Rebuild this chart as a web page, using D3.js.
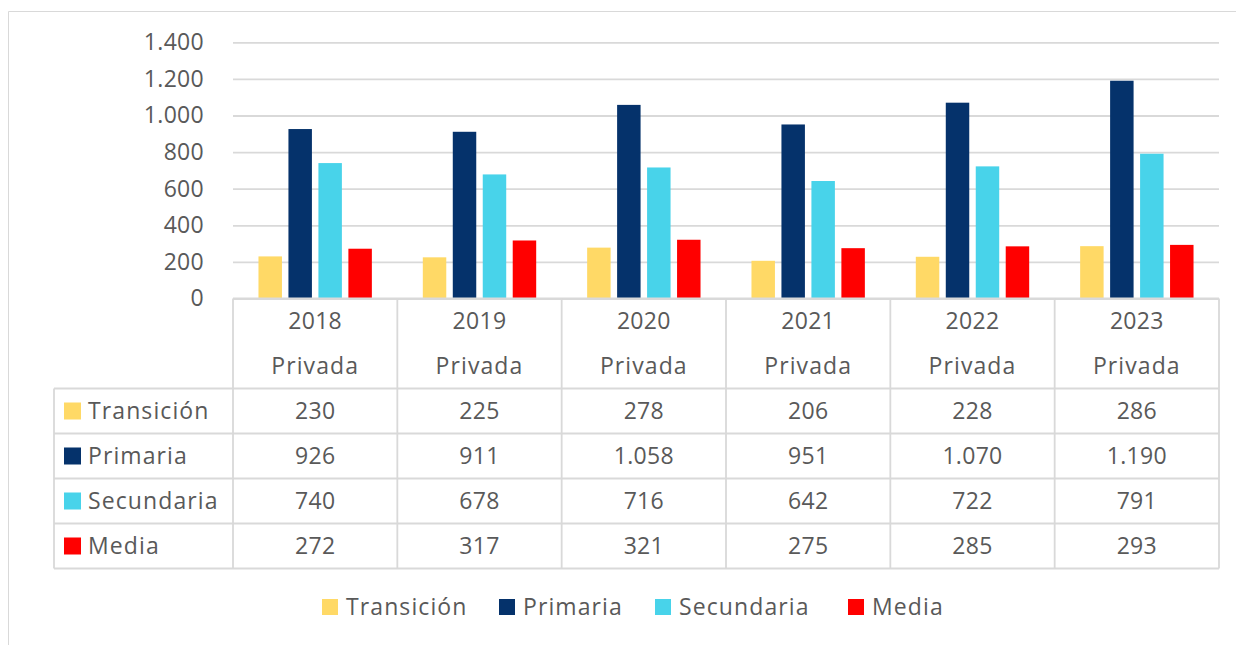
<!DOCTYPE html>
<html>
<head>
<meta charset="utf-8">
<script src="https://cdn.jsdelivr.net/npm/d3@7"></script>
<style>
  body { margin: 0; background: #fff; }
  svg text { font-family: "Open Sans", sans-serif; fill: #595959; letter-spacing: 0.3px; }
  svg text.word { letter-spacing: 1.1px; }
</style>
</head>
<body>
<svg id="chart" width="1236" height="645"></svg>
<script>
// data
var years = ["2018", "2019", "2020", "2021", "2022", "2023"]
var sector = "Privada"
var seriesNames = ["Transición", "Primaria", "Secundaria", "Media"]
var transicion = [230, 225, 278, 206, 228, 286]
var primaria = [926, 911, 1058, 951, 1070, 1190]
var secundaria = [740, 678, 716, 642, 722, 791]
var media = [272, 317, 321, 275, 285, 293]
var yTicks = [0, 200, 400, 600, 800, 1000, 1200, 1400]

var seriesValues = [transicion, primaria, secundaria, media]
var colors = ["#FFD966", "#05326B", "#48D3EA", "#FF0000"]
var lineColor = "#d9d9d9"
var fontSize = 23

// spanish style numbers: 1.058
var es = d3.formatLocale({decimal: ",", thousands: ".", grouping: [3], currency: ["", " €"]})
var fmt = es.format(",d")

var svg = d3.select("#chart")

// frame of the chart object
svg.append("path")
  .attr("d", "M8.5,645 V11.5 H1236")
  .attr("fill", "none")
  .attr("stroke", lineColor)
  .attr("stroke-width", 1)

var plotLeft = 233, plotRight = 1219, plotTop = 42.3, base = 298.5
var tableLeft = 54
var rowH = 45

var x = d3.scaleBand().domain(years).range([plotLeft, plotRight])
var xs = d3.scaleBand().domain(seriesNames).range([0, x.bandwidth()])
  .paddingInner(0.217).paddingOuter(0.85)
var y = d3.scaleLinear().domain([0, 1400]).range([base, plotTop])

// gridlines + tick labels
var yAxis = svg.append("g")
  .attr("transform", "translate(" + plotLeft + ",0)")
  .call(d3.axisLeft(y).tickValues(yTicks).tickFormat(fmt)
    .tickSizeInner(-(plotRight - plotLeft)).tickSizeOuter(0).tickPadding(29))
yAxis.select(".domain").remove()
yAxis.selectAll(".tick line").attr("stroke", lineColor).attr("stroke-width", 1.8)
yAxis.selectAll(".tick text").attr("font-size", fontSize).attr("font-family", null)
  .attr("fill", "#595959")

// bars
var groups = svg.selectAll("g.year")
  .data(years)
  .enter().append("g")
  .attr("class", "year")
  .attr("transform", function(d){ return "translate(" + x(d) + ",0)" })

groups.selectAll("rect")
  .data(function(d, i){
    return seriesNames.map(function(s, j){ return {s: s, v: seriesValues[j][i], c: colors[j]} })
  })
  .enter().append("rect")
  .attr("x", function(d){ return xs(d.s) })
  .attr("width", xs.bandwidth())
  .attr("y", function(d){ return y(d.v) })
  .attr("height", function(d){ return base - y(d.v) })
  .attr("fill", function(d){ return d.c })

// data table below the plot
var rowsTop = base + 2 * rowH
var tableBottom = rowsTop + seriesNames.length * rowH
var grid = svg.append("g").attr("stroke", lineColor).attr("stroke-width", 1.8)

// axis line / header top
grid.append("line").attr("x1", plotLeft).attr("x2", plotRight).attr("y1", base).attr("y2", base)
// horizontal row lines
seriesNames.concat(["end"]).forEach(function(s, i){
  var yy = rowsTop + i * rowH
  grid.append("line").attr("x1", tableLeft).attr("x2", plotRight).attr("y1", yy).attr("y2", yy)
})
// vertical lines
var bounds = years.map(function(d){ return x(d) }).concat([plotRight])
bounds.forEach(function(b){
  grid.append("line").attr("x1", b).attr("x2", b).attr("y1", base).attr("y2", tableBottom)
})
grid.append("line").attr("x1", tableLeft).attr("x2", tableLeft).attr("y1", rowsTop).attr("y2", tableBottom)

// header texts
years.forEach(function(yr){
  var cx = x(yr) + x.bandwidth() / 2
  svg.append("text").attr("x", cx).attr("y", base + rowH / 2).attr("dy", "0.35em")
    .attr("text-anchor", "middle").attr("font-size", fontSize).text(yr)
  svg.append("text").attr("class", "word").attr("x", cx).attr("y", base + rowH * 1.5).attr("dy", "0.35em")
    .attr("text-anchor", "middle").attr("font-size", fontSize).text(sector)
})

// rows
seriesNames.forEach(function(s, j){
  var cy = rowsTop + j * rowH + rowH / 2
  svg.append("rect").attr("x", 64).attr("y", cy - 8.5).attr("width", 17).attr("height", 17)
    .attr("fill", colors[j])
  svg.append("text").attr("class", "word").attr("x", 88).attr("y", cy).attr("dy", "0.35em")
    .attr("font-size", fontSize).text(s)
  years.forEach(function(yr, i){
    svg.append("text").attr("x", x(yr) + x.bandwidth() / 2).attr("y", cy).attr("dy", "0.35em")
      .attr("text-anchor", "middle").attr("font-size", fontSize).text(fmt(seriesValues[j][i]))
  })
})

// legend
var legend = svg.append("g").attr("transform", "translate(0,607)")
var legX = [322, 499, 655, 848]
seriesNames.forEach(function(s, j){
  legend.append("rect").attr("x", legX[j]).attr("y", -8).attr("width", 16).attr("height", 16)
    .attr("fill", colors[j])
  legend.append("text").attr("class", "word").attr("x", legX[j] + 24).attr("y", 0).attr("dy", "0.35em")
    .attr("font-size", fontSize).text(s)
})
</script>
</body>
</html>
